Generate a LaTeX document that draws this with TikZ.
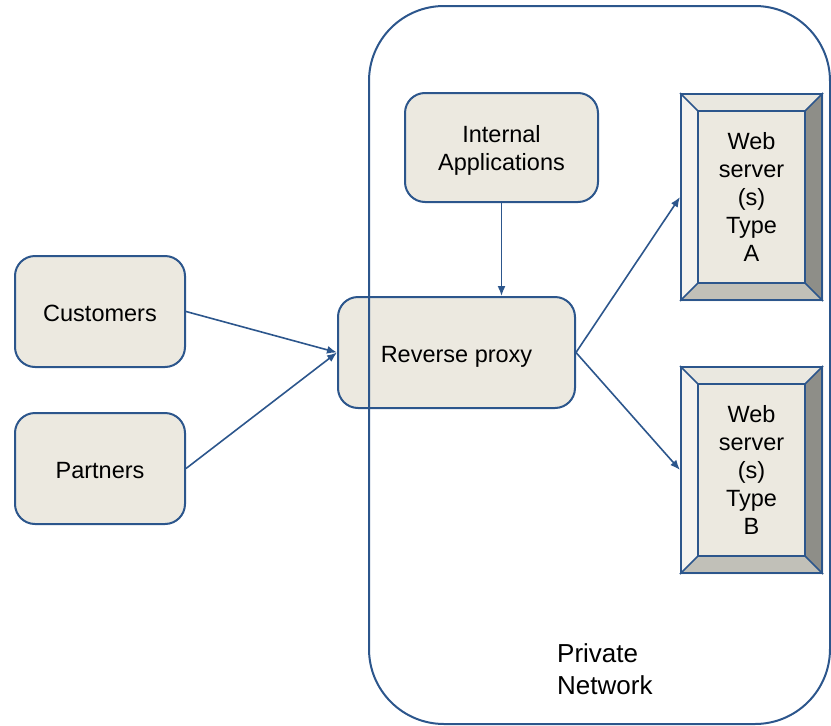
\documentclass[tikz,border=0pt]{standalone}
\usepackage{fontspec}
\setmainfont{Liberation Sans}
\usetikzlibrary{arrows.meta,backgrounds}
\definecolor{edge}{RGB}{44,86,140}
\definecolor{boxfill}{RGB}{236,233,224}
\definecolor{bevlight}{RGB}{244,243,239}
\definecolor{bevtop}{RGB}{234,232,224}
\definecolor{bevdark}{RGB}{142,142,136}
\definecolor{bevmid}{RGB}{193,192,184}
\tikzset{
  textfont/.style={font=\fontsize{23.5}{28}\selectfont},
  roundbox/.style={draw=edge, line width=2pt, fill=boxfill, rounded corners=20pt,
    align=center, textfont, inner sep=0pt},
  oneline/.style={text height=21pt, text depth=2pt},
  server/.style={draw=edge, line width=2pt, minimum width=141pt, minimum height=206pt,
    align=center, textfont, inner sep=0pt},
  link/.style={draw=edge, line width=1.6pt, -{Latex[length=10pt,width=8pt]}},
  bevelline/.style={draw=edge, line width=1.6pt}
}
% beveled server box: #1 node name
\newcommand\bevels[1]{%
  \begin{scope}[on background layer]
    \coordinate (#1-a) at ([shift={(18,18)}]#1.north west);
    \coordinate (#1-b) at ([shift={(-18,18)}]#1.north east);
    \coordinate (#1-c) at ([shift={(-18,-18)}]#1.south east);
    \coordinate (#1-d) at ([shift={(18,-18)}]#1.south west);
    \fill[bevlight] (#1.north west) -- (#1-a) -- (#1-d) -- (#1.south west) -- cycle;
    \fill[bevtop] (#1.north west) -- (#1.north east) -- (#1-b) -- (#1-a) -- cycle;
    \fill[bevdark] (#1.north east) -- (#1.south east) -- (#1-c) -- (#1-b) -- cycle;
    \fill[bevmid] (#1.south west) -- (#1.south east) -- (#1-c) -- (#1-d) -- cycle;
    \fill[boxfill] (#1-a) -- (#1-b) -- (#1-c) -- (#1-d) -- cycle;
    \draw[bevelline] (#1-a) -- (#1-b) -- (#1-c) -- (#1-d) -- cycle;
    \draw[bevelline] (#1.north west) -- (#1-a) (#1.north east) -- (#1-b)
      (#1.south east) -- (#1-c) (#1.south west) -- (#1-d);
  \end{scope}}
\begin{document}
\begin{tikzpicture}[x=1pt,y=-1pt]
\useasboundingbox (0,0) rectangle (831,726);

\node[roundbox, oneline, minimum width=170pt, minimum height=111pt] (cust) at (100,311.5) {Customers};
\node[roundbox, oneline, minimum width=170pt, minimum height=111pt] (part) at (100,468.5) {Partners};
\node[roundbox, oneline, minimum width=237pt, minimum height=111pt] (proxy) at (456.5,352.5) {Reverse proxy};
\node[roundbox, text depth=-3pt, minimum width=193pt, minimum height=109pt] (intapp) at (501.5,147.5) {Internal\\Applications};

\node[server] (srvA) at (751.5,197) {Web\\server\\(s)\\Type\\A};
\node[server] (srvB) at (751.5,470) {Web\\server\\(s)\\Type\\B};
\bevels{srvA}
\bevels{srvB}

\draw[link] (cust.east) -- (proxy.west);
\draw[link] (part.east) -- (proxy.west);
\draw[link] (intapp.south) -- (intapp.south |- proxy.north);
\draw[link] (proxy.east) -- (srvA.west);
\draw[link] (proxy.east) -- (srvB.west);

% private network boundary, drawn over the proxy box
\node[draw=edge, line width=2pt, rounded corners=75pt, minimum width=461pt,
  minimum height=718pt, inner sep=0pt] (net) at (599.5,365) {};
\node[anchor=west, align=left, inner sep=0pt, font=\fontsize{26}{32}\selectfont]
  (netlabel) at (557,669) {Private\\Network};
\end{tikzpicture}
\end{document}
